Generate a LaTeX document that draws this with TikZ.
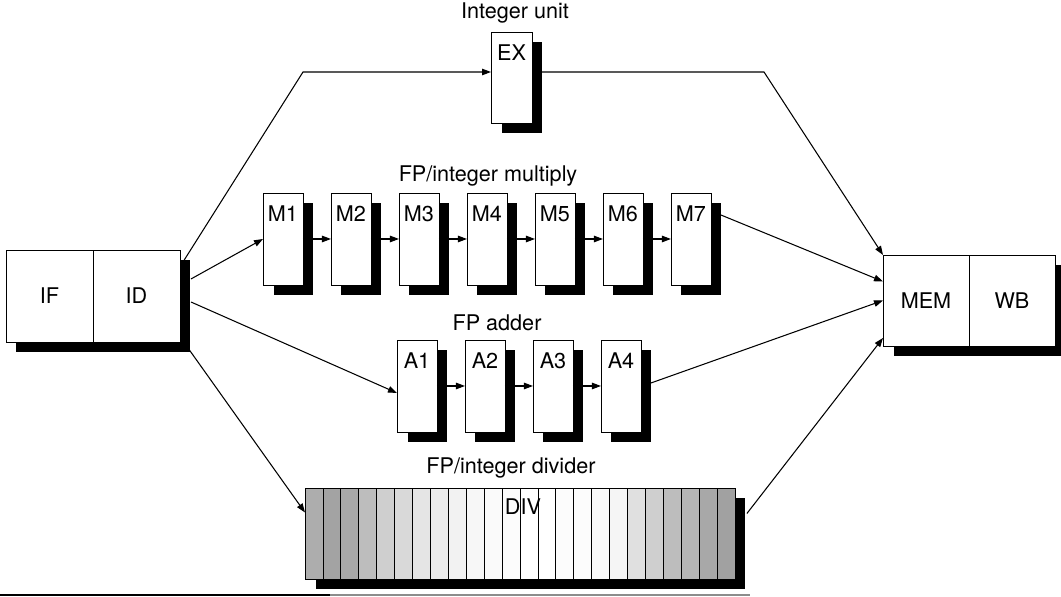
\documentclass[tikz,border=0pt]{standalone}
\usepackage{fontspec}
\setmainfont{TeX Gyre Heros}
\usetikzlibrary{positioning, arrows.meta, shadows}
\newcommand{\unitfont}{\fontsize{12.3}{14}\selectfont}

\begin{document}
\begin{tikzpicture}[x=0.02cm, y=-0.02cm,
      blackshadow/.style={drop shadow={shadow xshift=0.21cm, shadow yshift=-0.21cm, fill=black, opacity=1}},
      stage/.style={draw, fill=white, outer sep=0pt, minimum width=1.74cm, minimum height=1.84cm, font=\unitfont, blackshadow},
      unit/.style={draw, fill=white, outer sep=0pt, inner sep=0pt, minimum width=0.8cm, minimum height=1.84cm, text height=0.28cm, text depth=0.96cm, font=\unitfont, blackshadow},
      title/.style={font=\unitfont, inner sep=1pt, anchor=base},
      flow/.style={-{Triangle[length=1.8mm, width=1.3mm]}, semithick}
    ]
    \useasboundingbox (0,0) rectangle (1061,597);

    % fetch / decode
    \node[stage, anchor=north west] (fetch)  at (6,250) {IF};
    \node[stage, right=0pt of fetch] (decode) {ID};

    % integer unit
    \node[unit, anchor=north west, minimum width=0.82cm, minimum height=1.82cm] (ex) at (491,32) {EX};
    \node[title] (intlbl) at (515,19) {Integer unit};

    % multiplier
    \node[unit, anchor=north west] (m1) at (263,193) {M1};
    \node[unit, right=0.56cm of m1] (m2) {M2};
    \node[unit, right=0.56cm of m2] (m3) {M3};
    \node[unit, right=0.56cm of m3] (m4) {M4};
    \node[unit, right=0.56cm of m4] (m5) {M5};
    \node[unit, right=0.56cm of m5] (m6) {M6};
    \node[unit, right=0.56cm of m6] (m7) {M7};
    \node[title] (mullbl) at (488,182) {FP/integer multiply};

    % adder
    \node[unit, anchor=north west] (a1) at (397,340) {A1};
    \node[unit, right=0.56cm of a1] (a2) {A2};
    \node[unit, right=0.56cm of a2] (a3) {A3};
    \node[unit, right=0.56cm of a3] (a4) {A4};
    \node[title] (addlbl) at (497,331) {FP adder};

    % divider
    \node[draw, fill=white, outer sep=0pt, blackshadow, anchor=north west, minimum width=8.6cm, minimum height=1.82cm] (div) at (305,488) {};
    \foreach \g [count=\i from 0] in {32,36,34,26,19,15,10,8,5,3,2,1,0,0,1,1,2,4,12,19,26,29,34,37}
      \filldraw[fill=black!\g] ([xshift=\i*0.358333cm]div.north west) rectangle ++(0.358333cm,-1.82cm);
    \node[font=\unitfont, anchor=north] (divtxt) at ([shift={(3,5)}]div.north) {DIV};
    \node[title] (divlbl) at (511,474) {FP/integer divider};

    % memory / write back
    \node[stage, anchor=north west, minimum width=1.72cm, minimum height=1.82cm] (mem) at (883,255) {MEM};
    \node[stage, right=0pt of mem, minimum width=1.72cm, minimum height=1.82cm] (wb) {WB};

    \coordinate (exbend)  at (303,72);
    \coordinate (membend) at (764,72);

    \draw[flow] ([shift={(3,12)}]decode.north east) -- (exbend) -- (ex.west |- exbend);
    \draw[flow] ([shift={(11,-17)}]decode.east) -- (m1.west);
    \draw[flow] ([shift={(11,6)}]decode.east) -- ([shift={(0,7)}]a1.west);
    \draw[flow] ([shift={(8,6)}]decode.south east) -- ([shift={(0,-21)}]div.west);

    \draw[flow] (m1.east) -- (m2.west);
    \draw[flow] (m2.east) -- (m3.west);
    \draw[flow] (m3.east) -- (m4.west);
    \draw[flow] (m4.east) -- (m5.west);
    \draw[flow] (m5.east) -- (m6.west);
    \draw[flow] (m6.east) -- (m7.west);
    \draw[flow] (a1.east) -- (a2.west);
    \draw[flow] (a2.east) -- (a3.west);
    \draw[flow] (a3.east) -- (a4.west);

    \draw[flow] (ex.east |- exbend) -- (membend) -- (mem.north west);
    \draw[flow] ([shift={(10,-24)}]m7.east) -- ([shift={(0,-19)}]mem.west);
    \draw[flow] ([shift={(10,-3)}]a4.east) -- (mem.west);
    \draw[flow] ([shift={(12,-20)}]div.east) -- ([shift={(0,-8)}]mem.south west);

    % rule under the figure
    \draw[line width=1.4pt] (0,595) -- (330,595);
    \draw[line width=0.8pt, black!45] (330,595) -- (750,595);
  \end{tikzpicture}
\end{document}
